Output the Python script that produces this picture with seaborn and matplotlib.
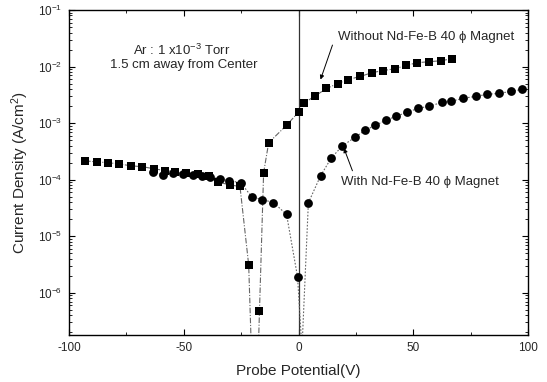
import numpy as np
import pandas as pd
import matplotlib
matplotlib.use("Agg")
import matplotlib.pyplot as plt
from matplotlib.ticker import LogLocator, FixedLocator, FixedFormatter
import seaborn as sns

# ---- data ----
# Without Nd-Fe-B magnet (squares); 1e-9 marks a point that falls below the axis
sq_x = [-93, -88, -83, -78, -73, -68, -63, -58, -54, -49, -44, -39, -35, -30, -25.5,
        -21.7, -19, -17, -15.2, -13, -5.2, 0, 2.2, 7, 12.2, 17, 21.7, 27, 32.2,
        37, 42.2, 47, 51.7, 57, 62.2, 67]
sq_y = [2.15e-4, 2.07e-4, 2.0e-4, 1.9e-4, 1.76e-4, 1.7e-4, 1.56e-4, 1.45e-4, 1.38e-4,
        1.3e-4, 1.25e-4, 1.17e-4, 9.1e-5, 8.1e-5, 7.6e-5,
        3.1e-6, 1e-9, 4.8e-7, 1.33e-4, 4.5e-4, 9.2e-4, 1.56e-3, 2.24e-3, 2.98e-3, 4.1e-3,
        5.0e-3, 5.9e-3, 6.7e-3, 7.85e-3, 8.5e-3, 9.2e-3, 1.05e-2, 1.17e-2, 1.22e-2,
        1.27e-2, 1.38e-2]

# With Nd-Fe-B magnet (circles); 1e-7 marks a point that falls below the axis
ci_x = [-63.5, -59.1, -54.8, -50.4, -46.1, -42.2, -38.7, -34.3, -30.4, -25.2, -20.4,
        -15.7, -10.9, -5.2, -0.4, 1.5, 4.3, 9.6, 14.3, 19.1, 24.8, 29.1, 33.5, 38.3,
        42.6, 47.4, 52.2, 56.9, 62.6, 66.5, 71.7, 77.4, 82.2, 87.4, 92.6, 97.4]
ci_y = [1.38e-4, 1.22e-4, 1.33e-4, 1.27e-4, 1.22e-4, 1.17e-4, 1.12e-4, 1.04e-4, 9.6e-5,
        8.9e-5, 5.0e-5, 4.46e-5, 3.95e-5, 2.43e-5, 1.9e-6, 1e-7, 3.9e-5, 1.17e-4,
        2.43e-4, 3.95e-4, 5.7e-4, 7.5e-4, 9.2e-4, 1.13e-3, 1.33e-3, 1.56e-3, 1.83e-3,
        1.99e-3, 2.33e-3, 2.43e-3, 2.75e-3, 2.98e-3, 3.23e-3, 3.36e-3, 3.64e-3, 3.95e-3]

x_ticks = [-100, -50, 0, 50, 100]
x_tick_labels = ["-100", "-50", "0", "50", "100"]
y_ticks = [1e-6, 1e-5, 1e-4, 1e-3, 1e-2, 1e-1]
y_tick_labels = ["10$^{-6}$", "10$^{-5}$", "10$^{-4}$", "10$^{-3}$", "10$^{-2}$", "10$^{-1}$"]

sns.set_style("ticks")
plt.rcParams["font.family"] = ["Liberation Sans", "DejaVu Sans"]
plt.rcParams["mathtext.default"] = "regular"

fig = plt.figure(figsize=(5.47, 3.82), dpi=100)
ax = fig.add_axes([69 / 547, 47 / 382, (528 - 69) / 547, (335 - 10) / 382])

df_sq = pd.DataFrame({"x": sq_x, "y": sq_y})
df_ci = pd.DataFrame({"x": ci_x, "y": ci_y})

ax.set_yscale("log")
ax.axvline(0, color="#333333", lw=0.9, zorder=1)

line_kw = dict(estimator=None, sort=False, color="#666666", lw=0.8, ax=ax)
sns.lineplot(data=df_sq, x="x", y="y", linestyle=(0, (5, 1.5, 1, 1.5)), **line_kw)
sns.lineplot(data=df_ci, x="x", y="y", linestyle=(0, (1.5, 1.5)), **line_kw)
sns.scatterplot(data=df_sq, x="x", y="y", marker="s", s=30, color="black",
                edgecolor="black", linewidth=0, ax=ax, zorder=3)
sns.scatterplot(data=df_ci, x="x", y="y", marker="o", s=40, color="black",
                edgecolor="black", linewidth=0, ax=ax, zorder=3)

ax.set_xlim(-100, 100)
ax.set_ylim(1.8e-7, 1e-1)

ax.xaxis.set_major_locator(FixedLocator(x_ticks))
ax.xaxis.set_major_formatter(FixedFormatter(x_tick_labels))
ax.xaxis.set_minor_locator(FixedLocator([-75, -25, 25, 75]))
ax.yaxis.set_major_locator(FixedLocator(y_ticks))
ax.yaxis.set_major_formatter(FixedFormatter(y_tick_labels))
ax.yaxis.set_minor_locator(LogLocator(base=10, subs=np.arange(2, 10)))
ax.yaxis.set_minor_formatter(FixedFormatter([]))

ax.tick_params(which="both", direction="in", top=True, right=True, labelsize=8.5, color="black")
ax.tick_params(which="major", length=4, width=0.8, pad=5)
ax.tick_params(which="minor", length=2, width=0.6)
for sp in ax.spines.values():
    sp.set_linewidth(1.0)
    sp.set_color("black")

ax.set_xlabel("Probe Potential(V)", fontsize=11, labelpad=7)
ax.set_ylabel("Current Density (A/cm$^2$)", fontsize=11, labelpad=5)

ax.text(-51, 1.95e-2, "Ar : 1 x10$^{-3}$ Torr", ha="center", va="center", fontsize=9.5)
ax.text(-50, 1.08e-2, "1.5 cm away from Center", ha="center", va="center", fontsize=9.5)

ax.text(17, 3.4e-2, "Without Nd-Fe-B 40 ϕ Magnet", ha="left", va="center", fontsize=9.5)
ax.annotate("", xy=(9.6, 5.9e-3), xytext=(14.8, 2.4e-2),
            arrowprops=dict(arrowstyle="-|>", color="black", lw=0.7, mutation_scale=6,
                            shrinkA=0, shrinkB=0))
ax.text(18.7, 9.2e-5, "With Nd-Fe-B 40 ϕ Magnet", ha="left", va="center", fontsize=9.5)
ax.annotate("", xy=(19.8, 3.6e-4), xytext=(23.5, 1.44e-4),
            arrowprops=dict(arrowstyle="-|>", color="black", lw=0.7, mutation_scale=6,
                            shrinkA=0, shrinkB=0))

fig.savefig("out.png", dpi=100)
